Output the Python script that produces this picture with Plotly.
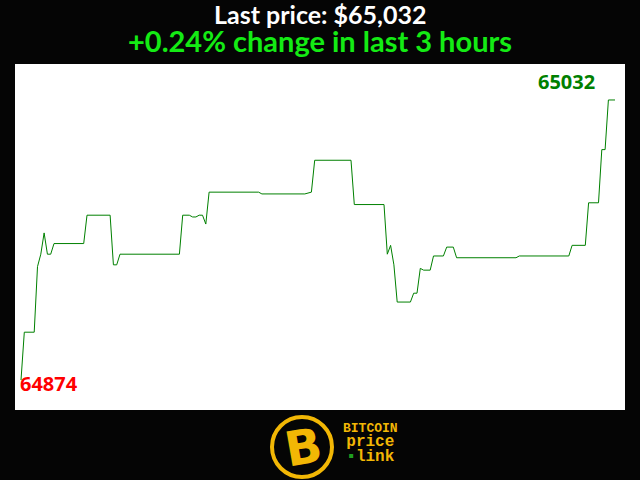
import plotly.graph_objects as go

# price samples (minutes since start of the 3 hour window)
minutes = [0, 1, 4, 5, 6, 7, 8, 9, 10, 19, 20, 27, 28, 29, 30, 48, 49, 51, 52, 53,
           54, 55, 56, 57, 72, 73, 86, 88, 89, 100, 101, 110, 111, 112, 113, 114, 118, 119, 120, 121,
           122, 124, 125, 128, 129, 131, 132, 150, 151, 166, 167, 171, 172, 175, 176, 177, 178, 180]
prices = [64874, 64901, 64901, 64938, 64945, 64957, 64945, 64945, 64951, 64951,
          64967, 64967, 64939, 64939, 64945, 64945, 64967, 64967, 64966, 64966,
          64967, 64967, 64962, 64980, 64980, 64979, 64979, 64980, 64998, 64998,
          64973, 64973, 64945, 64950, 64939, 64918, 64918, 64923, 64923, 64937,
          64936, 64936, 64944, 64944, 64949, 64949, 64943, 64943, 64944, 64944,
          64950, 64950, 64974, 64974, 65004, 65004, 65032, 65032]

first_price = prices[0]
last_price = prices[-1]
pct = (last_price - first_price) / first_price * 100

YELLOW = "#f2b705"
BG = "#050505"

fig = go.Figure()
fig.add_trace(go.Scatter(
    x=minutes, y=prices, mode="lines",
    line=dict(color="#008000", width=1),
    hoverinfo="skip", showlegend=False,
))

fig.update_layout(
    width=640, height=480,
    margin=dict(l=15, r=15, t=64, b=70),
    paper_bgcolor=BG,
    plot_bgcolor="white",
    xaxis=dict(visible=False, range=[-1.82, 183.03]),
    yaxis=dict(visible=False, range=[64857.1, 65052.3]),
)

# end-point labels
fig.add_annotation(x=minutes[0], y=first_price, text=f"<b>{first_price}</b>",
                   xanchor="left", yanchor="middle", showarrow=False, xshift=-3, yshift=-3,
                   font=dict(family="Open Sans", size=20, color="#ff0000"))
fig.add_annotation(x=minutes[-1], y=last_price, text=f"<b>{last_price}</b>",
                   xanchor="right", yanchor="bottom", showarrow=False, xshift=-18, yshift=3,
                   font=dict(family="Open Sans", size=20, color="#008000"))

# headline
fig.add_annotation(xref="paper", yref="paper", x=0.5, y=1.1445,
                   text=f"<b>Last price: ${last_price:,}</b>", showarrow=False,
                   xanchor="center", yanchor="middle",
                   font=dict(family="Lato", size=25, color="white"))
fig.add_annotation(xref="paper", yref="paper", x=0.5, y=1.0665,
                   text=f"<b>{pct:+.2f}% change in last 3 hours</b>", showarrow=False,
                   xanchor="center", yanchor="middle",
                   font=dict(family="Lato", size=29, color="#14eb14"))

# logo
fig.add_shape(type="circle", xref="paper", yref="paper",
              xsizemode="pixel", ysizemode="pixel",
              xanchor=(302 - 15) / 610, yanchor=(410 - 447) / 346,
              x0=-30, x1=30, y0=-30, y1=30,
              line=dict(color=YELLOW, width=4), fillcolor=BG)
fig.add_annotation(xref="paper", yref="paper", x=(303 - 15) / 610, y=(410 - 447) / 346,
                   text="<b>B</b>", showarrow=False, textangle=-10,
                   xanchor="center", yanchor="middle",
                   font=dict(family="DejaVu Sans", size=48, color=YELLOW))
fig.add_annotation(xref="paper", yref="paper", x=(370 - 15) / 610, y=(410 - 443) / 346,
                   text=("<b><span style='font-size:13px'>BITCOIN</span><br>"
                         "<span style='font-size:16px'>price</span><br>"
                         "<span style='font-size:16px'><span style='color:#1f9e1f'>▪</span>link</span></b>"),
                   showarrow=False, xanchor="center", yanchor="middle", align="center",
                   font=dict(family="Liberation Mono", size=11, color=YELLOW))

# drop the page's default body margin so the figure sits flush with the window
fig.write_html("out.html", config={"displayModeBar": False},
               post_script="document.body.style.margin='0';document.body.style.background='%s';" % BG)
